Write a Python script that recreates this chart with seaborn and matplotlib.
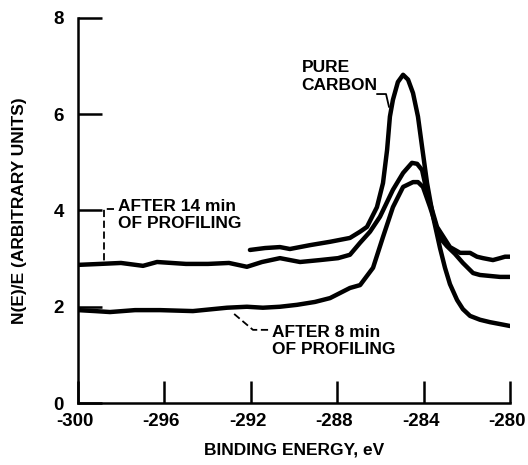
import matplotlib
matplotlib.use("Agg")
import matplotlib.pyplot as plt
import matplotlib.transforms as mtransforms
import seaborn as sns
import pandas as pd

# ---- data ----
pure_x = [-292.04, -291.34, -290.65, -290.19, -289.26, -288.33, -287.41, -286.94, -286.62,
          -286.16, -285.88, -285.69, -285.56, -285.42, -285.19, -284.95, -284.72, -284.49,
          -284.26, -284.07, -283.84, -283.56, -283.24, -283.01, -282.78, -282.45, -282.18,
          -281.85, -281.39, -280.93, -280.46, -280.0]
pure_y = [3.18, 3.22, 3.24, 3.20, 3.28, 3.35, 3.43, 3.56, 3.66,
          4.07, 4.57, 5.26, 5.95, 6.30, 6.67, 6.82, 6.72, 6.44,
          5.95, 5.32, 4.57, 3.87, 3.22, 2.81, 2.47, 2.14, 1.95,
          1.81, 1.73, 1.68, 1.64, 1.60]

m14_x = [-300.0, -298.98, -298.01, -296.99, -296.34, -295.0, -293.98, -293.01, -292.18,
         -291.48, -290.65, -289.72, -288.80, -287.96, -287.41, -286.94, -286.48, -286.02,
         -285.42, -284.95, -284.54, -284.30, -284.07, -283.84, -283.38, -282.78, -282.31,
         -281.85, -281.53, -281.25, -280.79, -280.46, -280.23, -280.0]
m14_y = [2.87, 2.89, 2.91, 2.85, 2.93, 2.89, 2.89, 2.91, 2.83,
         2.93, 3.01, 2.93, 2.97, 3.01, 3.08, 3.33, 3.56, 3.87,
         4.43, 4.78, 4.99, 4.97, 4.84, 4.37, 3.66, 3.24, 3.12,
         3.12, 3.04, 3.01, 2.97, 3.01, 3.04, 3.04]

m8_x = [-300.0, -299.21, -298.52, -297.36, -296.20, -294.68, -293.10, -292.18, -291.44,
        -290.65, -289.86, -289.03, -288.33, -287.41, -286.94, -286.34, -285.88, -285.42,
        -284.95, -284.49, -284.26, -284.03, -283.70, -283.24, -282.92, -282.55, -282.18,
        -281.71, -281.39, -280.93, -280.46, -280.0]
m8_y = [1.93, 1.91, 1.89, 1.93, 1.93, 1.91, 1.98, 2.00, 1.98,
        2.00, 2.04, 2.10, 2.18, 2.39, 2.45, 2.81, 3.45, 4.07,
        4.49, 4.59, 4.59, 4.49, 4.07, 3.43, 3.26, 3.10, 2.91,
        2.70, 2.66, 2.64, 2.62, 2.62]

x_ticks = [-300, -296, -292, -288, -284, -280]
y_ticks = [0, 2, 4, 6, 8]
x_label = "BINDING ENERGY, eV"
y_label = "N(E)/E (ARBITRARY UNITS)"

sns.set_theme(style="ticks")
plt.rcParams["font.family"] = ["Liberation Sans", "DejaVu Sans"]
plt.rcParams["font.weight"] = "bold"
plt.rcParams["text.color"] = "black"
plt.rcParams["axes.labelcolor"] = "black"

df = pd.concat([
    pd.DataFrame({"x": pure_x, "y": pure_y, "s": "pure"}),
    pd.DataFrame({"x": m14_x, "y": m14_y, "s": "14"}),
    pd.DataFrame({"x": m8_x, "y": m8_y, "s": "8"}),
])

fig = plt.figure(figsize=(5.28, 4.65), dpi=100)
ax = fig.add_axes([78 / 528, 62 / 465, 432 / 528, 385 / 465])

for name in ["pure", "14", "8"]:
    sub = df[df["s"] == name]
    sns.lineplot(data=sub, x="x", y="y", ax=ax, color="black", lw=3.2,
                 sort=False, estimator=None, legend=False,
                 solid_joinstyle="round", solid_capstyle="round")

ax.set_xlim(-300, -280)
ax.set_ylim(0, 8)
ax.set_xticks(x_ticks)
ax.set_xticklabels([str(t) for t in x_ticks])
ax.set_yticks(y_ticks)
ax.set_yticklabels([str(t) for t in y_ticks])
ax.tick_params(axis="x", direction="in", length=16, width=1.8, pad=7,
               labelsize=13.5, colors="black")
ax.tick_params(axis="y", direction="in", length=17, width=1.8, pad=10,
               labelsize=13.5, colors="black")
shift = mtransforms.ScaledTranslation(-3 / 100, 0, fig.dpi_scale_trans)
for lab in ax.get_xticklabels():
    lab.set_fontweight("bold")
    lab.set_transform(lab.get_transform() + shift)
for lab in ax.get_yticklabels():
    lab.set_fontweight("bold")
sns.despine(ax=ax, top=True, right=True)
for sp in ["left", "bottom"]:
    ax.spines[sp].set_linewidth(1.8)
    ax.spines[sp].set_color("black")

ax.set_xlabel(x_label, fontsize=12.5, fontweight="bold", labelpad=9, color="black")
ax.set_ylabel(y_label, fontsize=12.5, fontweight="bold", labelpad=19, color="black")

# annotations
ax.text(-289.65, 7.12, "PURE\nCARBON", fontsize=12.5, fontweight="bold",
        ha="left", va="top", linespacing=1.2, color="black")
ax.plot([-286.16, -285.74, -285.6], [6.42, 6.42, 6.15], color="black", lw=1.3)

ax.text(-298.15, 4.24, "AFTER 14 min\nOF PROFILING", fontsize=12.5, fontweight="bold",
        ha="left", va="top", linespacing=1.2, color="black")
ax.plot([-298.35, -298.8, -298.8], [4.03, 4.03, 2.92], color="black", lw=1.3,
        linestyle=(0, (4, 2)))

ax.text(-291.0, 1.62, "AFTER 8 min\nOF PROFILING", fontsize=12.5, fontweight="bold",
        ha="left", va="top", linespacing=1.2, color="black")
ax.plot([-291.2, -291.9, -292.85], [1.52, 1.52, 1.88], color="black", lw=1.3,
        linestyle=(0, (4, 2)))

fig.savefig("out.png", dpi=100)
